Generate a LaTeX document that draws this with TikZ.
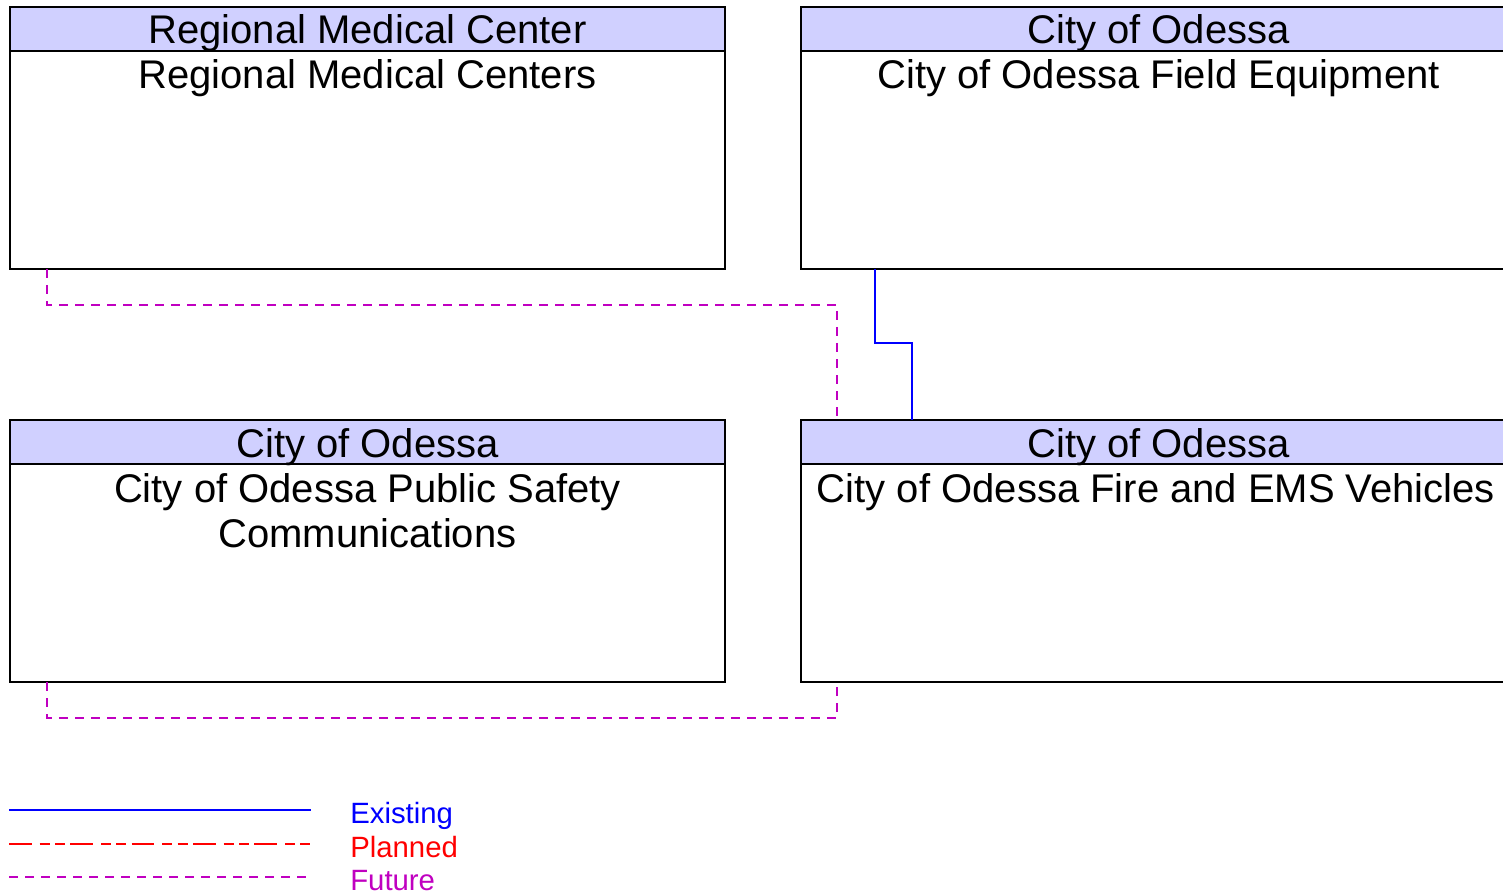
\documentclass[tikz,border=0pt]{standalone}
\usepackage{fontspec}
\setmainfont{Liberation Sans}
\definecolor{hdr}{RGB}{208,208,255}
\definecolor{exist}{RGB}{0,0,255}
\definecolor{plan}{RGB}{255,0,0}
\definecolor{fut}{RGB}{192,0,192}
\begin{document}
\begin{tikzpicture}[x=0.75pt,y=-0.75pt,
  box/.style={draw=black,line width=0.9pt,fill=white},
  hbox/.style={draw=black,line width=0.9pt,fill=hdr},
  ttl/.style={font=\fontsize{30}{34}\selectfont,inner sep=0pt,anchor=base},
  existline/.style={exist,line width=1.3pt},
  planline/.style={plan,line width=0.9pt,dash pattern=on 17pt off 6pt on 7.5pt off 4pt on 7.5pt off 4pt},
  futline/.style={fut,line width=0.9pt,dash pattern=on 6.5pt off 5.5pt},
  leg/.style={font=\fontsize{22}{26}\selectfont,anchor=base west,inner sep=0pt}]
\useasboundingbox (0,0) rectangle (1503,891);
\begin{scope}
\clip (0,0) rectangle (1503,891);
% boxes
\foreach \x/\y/\n in {10/7/rmc,801/7/fe,10/420/ps,801/420/ems}{
  \draw[box] (\x,\y) rectangle ++(715,262);
  \draw[hbox] (\x,\y) rectangle ++(715,44);
  \coordinate (\n-nw) at (\x,\y);
}
\end{scope}
\node[ttl] (t1) at (367.5,44) {Regional Medical Center};
\node[ttl] (b1) at (367.5,89) {Regional Medical Centers};
\node[ttl] (t2) at (1158.5,44) {City of Odessa};
\node[ttl] (b2) at (1158.5,89) {City of Odessa Field Equipment};
\node[ttl] (t3) at (367.5,457) {City of Odessa};
\node[ttl] (b3a) at (367.5,502) {City of Odessa Public Safety};
\node[ttl] (b3b) at (367.5,547) {Communications};
\node[ttl] (t4) at (1158.5,457) {City of Odessa};
\node[ttl] (b4) at (1156,502) {City of Odessa Fire and EMS Vehicles};
% connectors
\coordinate (c1a) at (47,269); \coordinate (c1b) at (837,420);
\draw[futline] (c1a) -- (47,305) -- (837,305) -- (c1b);
\coordinate (c2a) at (875,269); \coordinate (c2b) at (912,420);
\draw[existline] (c2a) -- (875,343) -- (912,343) -- (c2b);
\coordinate (c3a) at (47,682); \coordinate (c3b) at (837,682);
\draw[futline] (c3a) -- (47,718) -- (837,718) -- (c3b);
% legend
\coordinate (l1a) at (9,810); \coordinate (l1b) at (311,810);
\draw[existline] (l1a) -- (l1b);
\coordinate (l2a) at (9,844); \coordinate (l2b) at (311,844);
\draw[planline] (l2a) -- (l2b);
\coordinate (l3a) at (9,877); \coordinate (l3b) at (311,877);
\draw[futline] (l3a) -- (l3b);
\node[leg,text=exist] (le) at (350,823) {Existing};
\node[leg,text=plan] (lp) at (350,857) {Planned};
\node[leg,text=fut] (lf) at (350,890) {Future};
\end{tikzpicture}
\end{document}
